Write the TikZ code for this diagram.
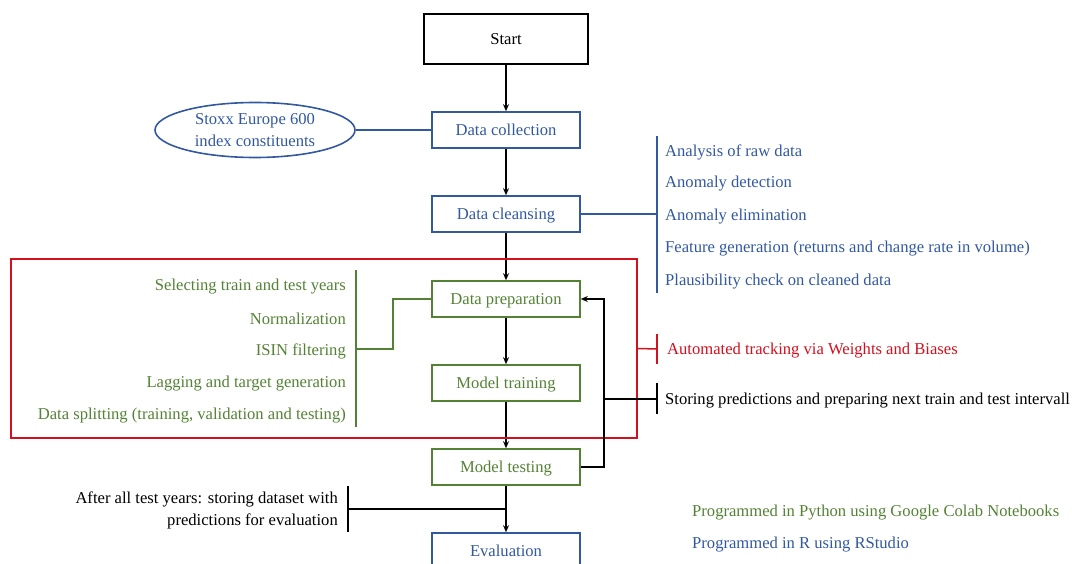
\documentclass[tikz,border=0pt]{standalone}
\usepackage{fontspec}
\setmainfont{Liberation Serif}
\usetikzlibrary{shapes.geometric,arrows.meta}
\definecolor{cblue}{RGB}{50,88,160}
\definecolor{cgreen}{RGB}{84,130,53}
\definecolor{cred}{RGB}{210,16,30}
\begin{document}
\begin{tikzpicture}[x=1pt,y=-1pt,
  font=\fontsize{16.6}{22}\selectfont,
  box/.style={draw, line width=1.6pt, minimum width=148pt, minimum height=36pt, inner sep=0pt, text depth=0pt},
  bluebox/.style={box, draw=cblue, text=cblue},
  greenbox/.style={box, draw=cgreen, text=cgreen},
  arr/.style={-{Stealth[length=7pt,width=6pt]}, line width=1.3pt, black},
  conn/.style={line width=1.5pt},
  bitem/.style={anchor=west, inner sep=0pt, text=cblue},
  gitem/.style={anchor=east, inner sep=0pt, text=cgreen}]
\useasboundingbox (0,0) rectangle (1075,564);

% main flow
\node[box, draw=black, minimum width=164pt, minimum height=50pt] (start) at (506,39) {Start};
\node[bluebox] (collect) at (506,130) {Data collection};
\node[bluebox] (cleanse) at (506,214) {Data cleansing};
\node[greenbox] (prep) at (506,299) {Data preparation};
\node[greenbox] (train) at (506,383) {Model training};
\node[greenbox] (test) at (506,467) {Model testing};
\node[bluebox] (eval) at (506,551) {Evaluation};

\node[draw=cblue, line width=1.6pt, ellipse, minimum width=200pt, minimum height=55pt, inner sep=0pt,
  text=cblue, align=center] (stoxx) at (255,130) {Stoxx Europe 600\\index constituents};

\draw[arr] (start) -- (collect);
\draw[arr] (collect) -- (cleanse);
\draw[arr] (cleanse) -- (prep);
\draw[arr] (prep) -- (train);
\draw[arr] (train) -- (test);
\draw[arr] (test) -- (eval);

\draw[conn, cblue] (stoxx) -- (collect);

% red frame
\node[draw=cred, line width=1.6pt, minimum width=626pt, minimum height=179pt, inner sep=0pt] (frame) at (324,348.5) {};

% cleansing list
\coordinate (cbT) at (657,136);
\coordinate (cbB) at (657,293);
\coordinate (cbM) at (657,214);
\draw[conn, cblue] (cbT) -- (cbB);
\draw[conn, cblue] (cleanse.east) -- (cbM);
\node[bitem] (b1) at (665,152) {Analysis of raw data};
\node[bitem] (b2) at (665,184) {Anomaly detection};
\node[bitem] (b3) at (665,217) {Anomaly elimination};
\node[bitem] (b4) at (665,249) {Feature generation (returns and change rate in volume)};
\node[bitem] (b5) at (665,282) {Plausibility check on cleaned data};

% preparation list
\coordinate (gbT) at (356,270);
\coordinate (gbB) at (356,427);
\coordinate (gbM) at (356,349);
\draw[conn, cgreen] (gbT) -- (gbB);
\draw[conn, cgreen] (gbM) -- (393,349) |- (prep.west);
\node[gitem] (g1) at (346,287) {Selecting train and test years};
\node[gitem] (g2) at (346,319) {Normalization};
\node[gitem] (g3) at (346,351) {ISIN filtering};
\node[gitem] (g4) at (346,384) {Lagging and target generation};
\node[gitem] (g5) at (346,416) {Data splitting (training, validation and testing)};

% feedback loop
\draw[arr] (test.east) -- (604,467) |- (prep.east);
\coordinate (loopJ) at (604,399);
\coordinate (sbT) at (657,383);
\coordinate (sbB) at (657,414);
\coordinate (sbM) at (657,399);
\draw[line width=1.3pt] (loopJ) -- (sbM);
\draw[line width=1.3pt] (sbT) -- (sbB);
\node[anchor=west, inner sep=0pt] (store) at (665,401) {Storing predictions and preparing next train and test intervall};

% tracking
\coordinate (rbT) at (657,334);
\coordinate (rbB) at (657,364);
\coordinate (rbM) at (657,349);
\draw[conn, cred] (frame.east) -- (rbM);
\draw[conn, cred] (rbT) -- (rbB);
\node[anchor=west, inner sep=0pt, text=cred] (track) at (667,351) {Automated tracking via Weights and Biases};

% after all test years
\coordinate (abT) at (348,486);
\coordinate (abB) at (348,532);
\coordinate (abM) at (348,509);
\coordinate (abJ) at (506,509);
\draw[line width=1.3pt] (abT) -- (abB);
\draw[line width=1.3pt] (abM) -- (abJ);
\node[anchor=east, inner sep=0pt, align=right] (after) at (338,510) {After all test years: storing dataset with\\predictions for evaluation};

% legend
\node[anchor=west, inner sep=0pt, text=cgreen] (lg1) at (692,513) {Programmed in Python using Google Colab Notebooks};
\node[anchor=west, inner sep=0pt, text=cblue] (lg2) at (692,545) {Programmed in R using RStudio};
\end{tikzpicture}
\end{document}
